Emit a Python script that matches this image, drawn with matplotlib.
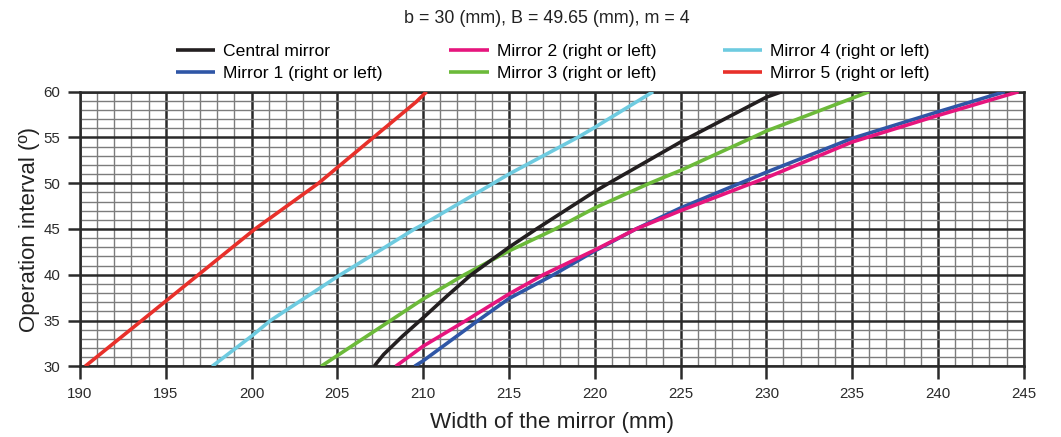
import matplotlib
matplotlib.use('Agg')
import matplotlib.pyplot as plt
from matplotlib.ticker import MultipleLocator

plt.rcParams['font.family'] = ['Liberation Sans', 'DejaVu Sans']

# ---- data (width of mirror in mm, operation interval in degrees) ----
central_w = [207.15, 207.35, 207.7, 208.8, 210.0, 211.4, 212.8, 215.0, 216.6, 220.0, 221.0, 225.0, 230.0, 230.9]
central_a = [30.0, 30.5, 31.3, 33.3, 35.3, 37.7, 40.0, 43.0, 45.0, 49.1, 50.2, 54.5, 59.4, 60.0]

mirror1_w = [209.5, 210.0, 213.2, 215.0, 217.6, 220.0, 222.4, 225.0, 230.0, 235.0, 240.0, 243.9]
mirror1_a = [30.0, 30.6, 35.0, 37.4, 40.0, 42.6, 45.0, 47.3, 51.2, 54.9, 57.8, 60.0]

mirror2_w = [208.4, 210.0, 212.5, 215.0, 217.0, 220.0, 222.4, 225.0, 230.0, 235.0, 240.0, 244.7]
mirror2_a = [30.0, 32.2, 35.0, 37.9, 40.0, 42.7, 45.0, 47.0, 50.6, 54.5, 57.4, 60.0]

mirror3_w = [204.05, 208.1, 210.0, 212.4, 215.0, 217.7, 220.0, 223.2, 225.0, 229.2, 230.0, 236.0]
mirror3_a = [30.0, 35.0, 37.35, 40.0, 42.6, 45.0, 47.3, 50.0, 51.4, 55.0, 55.7, 60.0]

mirror4_w = [197.7, 200.0, 201.1, 205.0, 209.5, 210.0, 214.1, 215.0, 219.0, 220.0, 223.4]
mirror4_a = [30.0, 33.3, 35.0, 39.8, 45.0, 45.5, 50.0, 51.0, 55.0, 56.1, 60.0]

mirror5_w = [190.3, 193.6, 196.9, 200.2, 203.9, 207.1, 209.6, 210.2]
mirror5_a = [30.0, 35.0, 40.0, 45.0, 50.0, 55.0, 58.9, 60.0]

labels = ["Central mirror", "Mirror 1 (right or left)", "Mirror 2 (right or left)",
          "Mirror 3 (right or left)", "Mirror 4 (right or left)", "Mirror 5 (right or left)"]
colors = ["#231f20", "#2f56a6", "#e6157d", "#6cba3a", "#6ecbe0", "#e8302a"]

title = "b = 30 (mm), B = 49.65 (mm), m = 4"
xlabel = "Width of the mirror (mm)"
ylabel = "Operation interval (º)"

# ---- figure ----
fig = plt.figure(figsize=(10.61, 4.37), dpi=100)
ax = fig.add_axes([80 / 1061, 1 - 366.3 / 437, (1023.7 - 80) / 1061, (366.3 - 91.7) / 437])

series = [(central_w, central_a), (mirror1_w, mirror1_a), (mirror2_w, mirror2_a),
          (mirror3_w, mirror3_a), (mirror4_w, mirror4_a), (mirror5_w, mirror5_a)]
handles = [None] * 6
for idx in [5, 4, 3, 0, 1, 2]:
    w, a = series[idx]
    h, = ax.plot(w, a, color=colors[idx], lw=2.6, label=labels[idx],
                 solid_capstyle='butt', solid_joinstyle='round', zorder=3)
    handles[idx] = h

ax.set_xlim(190, 245)
ax.set_ylim(30, 60)
ax.xaxis.set_major_locator(MultipleLocator(5))
ax.xaxis.set_minor_locator(MultipleLocator(1))
ax.yaxis.set_major_locator(MultipleLocator(5))
ax.yaxis.set_minor_locator(MultipleLocator(1))
ax.set_axisbelow(True)
ax.grid(which='minor', color='#7c7c7c', lw=1.0)
ax.grid(which='major', color='#2a2a2a', lw=1.8)
ax.tick_params(which='minor', length=0)
ax.tick_params(which='major', length=9, width=1.8, color='#2a2a2a',
               labelsize=10.8, labelcolor='#2a2a2a')
ax.tick_params(axis='x', which='major', pad=6)
ax.tick_params(axis='y', which='major', pad=5)
for sp in ax.spines.values():
    sp.set_color('#2a2a2a')
    sp.set_linewidth(1.8)

ax.set_xlabel(xlabel, fontsize=16.2, color='#222222', labelpad=8)
ax.set_ylabel(ylabel, fontsize=16, color='#222222', labelpad=3)

fig.text(0.515, 0.958, title, ha='center', va='center', fontsize=12.9, color='#222222')

fig.legend(handles=handles, labels=labels, ncol=3, loc='center',
           bbox_to_anchor=(0.521, 0.857), frameon=False, fontsize=12.6,
           handlelength=2.25, handletextpad=0.46, columnspacing=3.8,
           labelspacing=0.4, borderpad=0.2)

fig.savefig("out.png", dpi=100)
